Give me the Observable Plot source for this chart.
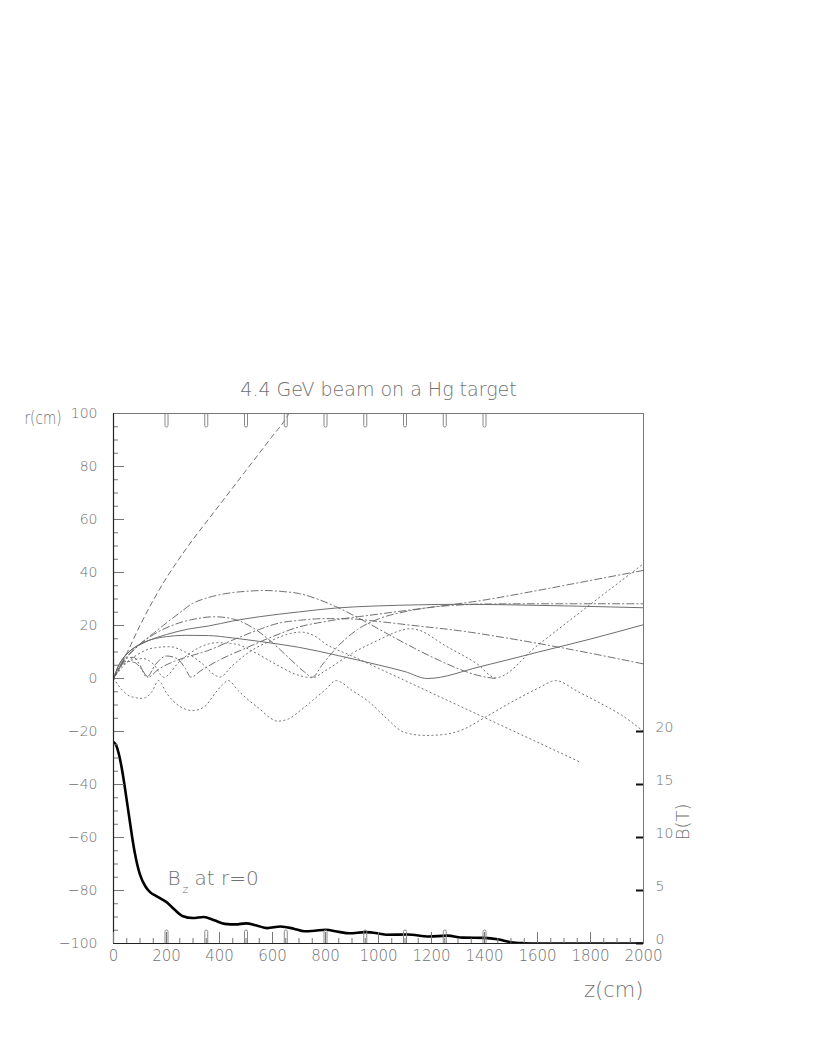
<!DOCTYPE html>
<html><head><meta charset="utf-8">
<script src="https://cdn.jsdelivr.net/npm/d3@7"></script>
<script src="https://cdn.jsdelivr.net/npm/@observablehq/plot@0.6"></script>
<style>
body{margin:0;background:#fff;}
#chart svg text{font-weight:200;}
</style>
</head><body><div id="chart"></div>
<script>
// ---- data (z in cm, r in cm) ----
const titleText = "4.4 GeV beam on a Hg target";
const yMajor = [-100,-80,-60,-40,-20,0,20,40,60,80,100];
const yMinor = d3.range(-100, 101, 5);
const xMajor = [0,200,400,600,800,1000,1200,1400,1600,1800,2000];
const xMinor = d3.range(0, 2001, 50);
const bTicks = [0,5,10,15,20];
const coilZ = [200,350,500,650,800,950,1100,1250,1400];

const solidA = [[0,0],[20,5],[40,8],[70,11],[107,13.1],[150,15],[200,16.6],[280,18.6],[358,19.8],[450,21.7],[550,23.3],[698,25.1],[840,26.6],[1000,27.4],[1150,27.8],[1300,28],[1500,27.8],[1750,27.3],[2000,26.7]];
const solidB = [[0,0],[15,4],[30,6.8],[50,9.3],[70,11],[100,13],[143,14.7],[200,15.8],[270,16.3],[358,16.2],[450,15.3],[550,14],[698,11.8],[850,8.6],[1000,5.1],[1100,2.6],[1184,0],[1385,4.5],[1600,9.9],[1800,14.9],[2000,20.3]];
const dashed1 = [[0,0],[50,9.5],[100,20],[150,29.5],[200,38],[250,45.5],[300,52.5],[350,59],[400,65.5],[450,72],[500,78.5],[550,85],[600,91.5],[650,98],[665,100.5]];
const dashDot1 = [[0,0],[30,5],[60,9],[100,13],[150,17],[195,20.6],[250,24.8],[296,28.2],[350,30.3],[421,32],[500,32.9],[572,33.2],[640,32.8],[698,32.1],[780,29.6],[844,26.9],[940,22],[1033,16.9],[1130,11.7],[1230,6.8],[1330,2.6],[1400,0.6],[1442,0]];
const dashDot2 = [[0,0],[25,4.5],[50,6.5],[80,6],[110,3],[130,0.5],[170,3.5],[230,6.5],[290,8.5],[355,10.5],[450,14.5],[550,18.5],[620,20.8],[706,22],[800,22.6],[894,22.5],[1000,21.5],[1150,19.8],[1300,18.1],[1500,15],[1750,10.5],[2000,5.5]];
const dashDot3 = [[0,0],[20,4],[45,7.5],[75,8],[100,5],[125,0.5],[160,5.5],[200,8.5],[240,7.5],[270,4],[292,0.5],[330,3],[396,6.8],[500,11.5],[600,15.8],[698,19.4],[800,21.5],[1000,24.3],[1200,26.9],[1385,29.4],[1600,33.2],[1800,37],[2000,40.8]];
const dashDot4 = [[0,0],[40,7],[90,12],[150,16.5],[220,20],[300,22.3],[380,23.3],[450,22.5],[520,19.5],[600,13.5],[670,7],[720,2.5],[750,0.5],[790,5.5],[850,12.5],[921,18.5],[1000,22.5],[1100,25.2],[1200,26.9],[1300,27.7],[1400,28.1],[1600,28.2],[2000,28.2]];
const dotted1 = [[0,0],[30,-4],[65,-6.8],[110,-7.5],[145,-5],[170,-0.8],[200,-5.5],[250,-10.5],[300,-12.1],[345,-10.5],[380,-6],[410,-2.5],[433,-0.8],[470,-4.5],[510,-8.2],[552,-11.5],[590,-14.8],[619,-16.1],[660,-15.3],[700,-12.5],[751,-8.3],[800,-4.2],[840,-0.8],[900,-4.5],[964,-8.8],[1030,-15],[1097,-20.3],[1177,-21.5],[1250,-21.1],[1310,-19.6],[1403,-14.6],[1500,-9],[1600,-3.8],[1669,-0.8],[1750,-4.8],[1842,-9.6],[1920,-14],[2000,-20]];
const dotted2 = [[0,0],[40,5],[90,9],[150,11.5],[210,12],[270,10],[330,6],[380,1.5],[400,0.5],[450,5],[520,10.5],[600,14.5],[650,16.5],[706,17.5],[760,16],[800,13.1],[900,8.5],[1083,0],[1300,-10.1],[1500,-19.4],[1762,-31.6]];
const dotted3 = [[0,0],[30,4.5],[70,7],[110,7.5],[150,5.5],[190,0.5],[250,6.5],[320,11.5],[390,13.5],[460,13],[530,10],[610,5.5],[690,1.5],[750,0.3],[800,3],[900,9.5],[1000,14.5],[1080,18],[1120,18.8],[1150,18.3],[1250,12.5],[1372,5.5],[1442,0.3],[1600,12.5],[1800,28],[2000,43.3]];

const bzZ = [0,10,20,30,40,50,60,70,80,90,100,120,140,160,180,200,230,260,300,340,380,420,460,500,540,580,630,680,720,760,800,850,890,950,1000,1030,1110,1190,1260,1320,1400,1450,1500,1550,1600,1800,2000];
const bzT = [19,18.7,17.9,16.7,15.2,13.5,11.8,10.1,8.6,7.4,6.5,5.4,4.8,4.5,4.2,3.9,3.2,2.6,2.4,2.5,2.2,1.85,1.8,1.9,1.7,1.45,1.6,1.4,1.15,1.2,1.3,1.1,0.97,1.07,0.95,0.83,0.85,0.66,0.74,0.55,0.53,0.4,0.12,0.03,0,0,0];

// ---- build tables ----
const trajectories = [
  {id:"sA", style:"solid", pts:solidA},
  {id:"sB", style:"solid", pts:solidB},
  {id:"d1", style:"dashed", pts:dashed1},
  {id:"dd1", style:"dashdot", pts:dashDot1},
  {id:"dd2", style:"dashdot", pts:dashDot2},
  {id:"dd3", style:"dashdot", pts:dashDot3},
  {id:"dd4", style:"dashdot", pts:dashDot4},
  {id:"p1", style:"dotted", pts:dotted1},
  {id:"p2", style:"dotted", pts:dotted2},
  {id:"p3", style:"dotted", pts:dotted3}
];
const rows = trajectories.flatMap(t => t.pts.map(([z,r]) => ({id:t.id, style:t.style, z, r})));
const bz = bzZ.map((z,i) => ({z, b:bzT[i]}));
// B axis (0..20 T) shares the lower part of the r axis: r = 4*B - 100
const bToR = b => 4*b - 100;

const W = 817, H = 1058, mL = 113, mR = 174, mT = 413, mB = 115;
const fw = W - mL - mR; // frame width
const fh = H - mT - mB;
const FONT = "'DejaVu Sans', 'Liberation Sans', sans-serif";
const TXT = "#707070";
const LINE = "#666";
const fmt = d => d < 0 ? "\u2212" + Math.abs(d) : String(d);

const coilTop = {draw(ctx){ ctx.moveTo(-1.5,0); ctx.lineTo(-1.5,12); ctx.arc(0,12,1.5,Math.PI,0,true); ctx.lineTo(1.5,0); }};
const coilBot = {draw(ctx){ ctx.moveTo(-1.5,0); ctx.lineTo(-1.5,-12); ctx.arc(0,-12,1.5,Math.PI,2*Math.PI,false); ctx.lineTo(1.5,0); }};

const styles = {solid:null, dashed:"5,4", dashdot:"7,3,1.2,3", dotted:"1.2,3.2"};

const chart = Plot.plot({
  width: W, height: H,
  marginLeft: mL, marginRight: mR, marginTop: mT, marginBottom: mB,
  style: {fontFamily: FONT, background: "white", color: TXT, overflow: "visible"},
  x: {domain: [0, 2000], axis: null},
  y: {domain: [-100, 100], axis: null},
  marks: [
    // trajectories
    ...Object.keys(styles).map(s => Plot.line(rows.filter(d => d.style === s), {
      x: "z", y: "r", z: "id", stroke: LINE, strokeWidth: 0.95,
      strokeDasharray: styles[s], curve: "monotone-x", clip: true
    })),
    // B field on axis
    Plot.line(bz, {x: "z", y: d => bToR(d.b), stroke: "#000", strokeWidth: 2.6, curve: "monotone-x", clip: true}),
    // coils
    Plot.dot(coilZ, {x: d => d, frameAnchor: "top", symbol: coilTop, r: 3, stroke: "#888", fill: "none", strokeWidth: 1}),
    Plot.dot(coilZ, {x: d => d, frameAnchor: "bottom", symbol: coilBot, r: 3, stroke: "#888", fill: "none", strokeWidth: 1}),
    // frame
    Plot.frame({stroke: "#777"}),
    // left axis ticks (inward)
    Plot.tickY(yMinor, {y: d => d, insetRight: fw - 5, stroke: "#777"}),
    Plot.tickY(yMajor, {y: d => d, insetRight: fw - 11, stroke: "#777"}),
    Plot.ruleX([0], {stroke: "#222", strokeWidth: 1.2}),
    // bottom ticks (inward)
    Plot.tickX(xMinor, {x: d => d, insetTop: fh - 5, stroke: "#777"}),
    Plot.tickX(xMajor, {x: d => d, insetTop: fh - 11, stroke: "#777"}),
    Plot.ruleY([-100], {stroke: "#222", strokeWidth: 1.2}),
    // right B ticks
    Plot.tickY(bTicks, {y: bToR, insetLeft: fw - 7, stroke: "#111", strokeWidth: 2}),
    // tick labels
    Plot.text(yMajor, {y: d => d, frameAnchor: "left", dx: -16, textAnchor: "end", text: fmt, fontSize: 14, fill: TXT}),
    Plot.text(xMajor, {x: d => d, frameAnchor: "bottom", dy: 17, text: fmt, fontSize: 15, fill: TXT}),
    Plot.text(bTicks, {y: bToR, frameAnchor: "right", dx: 12, dy: -4, textAnchor: "start", text: fmt, fontSize: 14, fill: TXT}),
    // titles
    Plot.text([titleText], {frameAnchor: "top", dy: -31, fontSize: 19, fill: TXT}),
    Plot.text(["r(cm)"], {frameAnchor: "top-left", dx: -89, dy: -2, textAnchor: "start", fontSize: 18, fill: TXT}),
    Plot.text(["z(cm)"], {frameAnchor: "bottom-right", dy: 53, textAnchor: "end", fontSize: 21, fill: TXT}),
    Plot.text(["B(T)"], {frameAnchor: "bottom-right", dx: 45, dy: -140, rotate: -90, fontSize: 18, fill: TXT}),
    // B_z label
    Plot.text(["B"], {frameAnchor: "bottom-left", dx: 54, dy: -59, textAnchor: "start", fontSize: 20, fill: TXT}),
    Plot.text(["z"], {frameAnchor: "bottom-left", dx: 69, dy: -51, textAnchor: "start", fontSize: 11, fill: TXT}),
    Plot.text(["at r=0"], {frameAnchor: "bottom-left", dx: 81, dy: -59, textAnchor: "start", fontSize: 20, fill: TXT})
  ]
});
// fit the "r(cm)" label into the narrow space left of the tick labels
d3.select(chart).selectAll("text").filter(function(){ return this.textContent === "r(cm)"; })
  .attr("textLength", 37).attr("lengthAdjust", "spacingAndGlyphs");
document.getElementById("chart").appendChild(chart);
</script>
</body></html>
